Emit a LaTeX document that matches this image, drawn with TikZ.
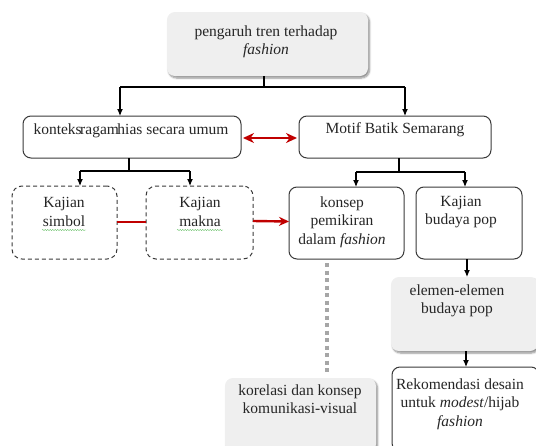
\documentclass[tikz,border=0pt]{standalone}
\usepackage{fontspec}
\setmainfont{Liberation Serif}
\usetikzlibrary{arrows.meta,shadows.blur,decorations.pathmorphing}
\definecolor{boxgray}{HTML}{EFEFEF}
\definecolor{darkred}{HTML}{C00000}
\definecolor{dotgray}{HTML}{A6A6A6}
\definecolor{edgegray}{HTML}{3A3A3A}
\tikzset{
  x=1pt, y=-1pt,
  every node/.style={inner sep=0pt, outer sep=0pt},
  txt/.style={font=\fontsize{15.5}{18.5}\selectfont, align=center, text=black!85},
  whitebox/.style={draw=edgegray, line width=1pt, rounded corners=8pt, fill=white},
  dashbox/.style={draw=edgegray, line width=1pt, dashed, dash pattern=on 4pt off 3pt, rounded corners=10pt, fill=white},
  graybox/.style={fill=boxgray, rounded corners=8pt, blur shadow={shadow xshift=1.5pt, shadow yshift=-2pt, shadow blur steps=6, shadow opacity=45}},
  blk/.style={draw=black, line width=1.1pt},
  blkarr/.style={blk, -{Latex[length=7pt,width=6pt]}},
  redarr/.style={draw=darkred, line width=2.4pt, -{Stealth[length=10pt,width=9pt]}},
  redboth/.style={draw=darkred, line width=2.6pt, {Stealth[length=11pt,width=10pt]}-{Stealth[length=11pt,width=10pt]}},
  redline/.style={draw=darkred, line width=2.4pt},
  dotline/.style={draw=dotgray, line width=4.5pt, dash pattern=on 4pt off 3.5pt},
  squig/.style={draw=green!60!black, line width=0.4pt, opacity=0.6, decorate, decoration={snake, amplitude=0.6pt, segment length=2.5pt}}
}
\begin{document}
\begin{tikzpicture}
\useasboundingbox (0,0) rectangle (536,445);
% boxes
\node[graybox, minimum width=201pt, minimum height=64pt] (top) at (267.5,44) {};
\node[whitebox, minimum width=218pt, minimum height=42pt] (konteks) at (132,137) {};
\node[whitebox, minimum width=192pt, minimum height=42pt] (motif) at (395,137) {};
\node[dashbox, minimum width=105pt, minimum height=73pt] (simbol) at (64.5,222.5) {};
\node[dashbox, minimum width=107pt, minimum height=73pt] (makna) at (199.5,222.5) {};
\node[whitebox, minimum width=115pt, minimum height=72pt] (konsep) at (346.5,223) {};
\node[whitebox, minimum width=106pt, minimum height=72pt] (pop) at (469,223) {};
\node[graybox, minimum width=147pt, minimum height=74pt] (elemen) at (464.5,314) {};
\node[whitebox, minimum width=147pt, minimum height=84pt] (rekom) at (465.5,409) {};
\node[graybox, minimum width=151pt, minimum height=74pt] (korelasi) at (300.5,415) {};
% texts
\node[txt] (ttop) at (266,42) {pengaruh tren terhadap\\\textit{fashion}};
\node[txt] (tkonteks) at (131,131) {konteks\hspace{-1.5pt}ragam\hspace{-1.5pt}hias secara umum};
\node[txt] (tmotif) at (395,130) {Motif Batik Semarang};
\node[txt] (tsimbol) at (64,212) {Kajian\\simbol};
\node[txt] (tmakna) at (200,212) {Kajian\\makna};
\node[txt] (tkonsep) at (342,222) {konsep\\pemikiran\\dalam \textit{fashion}};
\node[txt] (tpop) at (461,212) {Kajian\\budaya pop};
\node[txt] (telemen) at (457,301) {elemen-elemen\\budaya pop};
\node[txt] (trekom) at (460,404) {Rekomendasi desain\\untuk \textit{modest}/hijab\\\textit{fashion}};
\node[txt] (tkorelasi) at (300,399) {korelasi dan konsep\\komunikasi-visual};
% spell-check squiggles
\draw[squig] (42,230) -- (86,230);
\draw[squig] (177,230) -- (223,230);
% connectors
\coordinate (j1) at (264,87);
\coordinate (jl) at (120,87);
\coordinate (jr) at (405,87);
\draw[blk] (top.south -| j1) -- (j1);
\draw[blk] (jl) -- (jr);
\draw[blkarr] (jl) -- (jl |- konteks.north);
\draw[blkarr] (jr) -- (jr |- motif.north);
\coordinate (k1) at (129,171);
\coordinate (kl) at (80,171);
\coordinate (kr) at (190,171);
\draw[blk] (konteks.south -| k1) -- (k1);
\draw[blk] (kl) -- (kr);
\draw[blkarr] (kl) -- (kl |- simbol.north);
\draw[blkarr] (kr) -- (kr |- makna.north);
\coordinate (m1) at (399,172);
\coordinate (ml) at (356,172);
\coordinate (mr) at (465,172);
\draw[blk] (motif.south -| m1) -- (m1);
\draw[blk] (ml) -- (mr);
\draw[blkarr] (ml) -- (ml |- konsep.north);
\draw[blkarr] (mr) -- (mr |- pop.north);
\coordinate (p1) at (467,259);
\draw[blkarr] (pop.south -| p1) -- (p1 |- elemen.north);
\coordinate (e1) at (466,351);
\draw[blkarr] (elemen.south -| e1) -- (e1 |- rekom.north);
\draw[redboth] ([xshift=2pt,yshift=-1pt]konteks.east) -- ([xshift=-2pt,yshift=-1pt]motif.west);
\draw[redline] ([yshift=0.5pt]simbol.east) -- ([yshift=0.5pt]makna.west);
\draw[redarr] ([yshift=1.5pt]makna.east) -- ([yshift=1.5pt]konsep.west);
\coordinate (d1) at (327,263);
\draw[dotline] (d1) -- (d1 |- 0,372);
\end{tikzpicture}
\end{document}
